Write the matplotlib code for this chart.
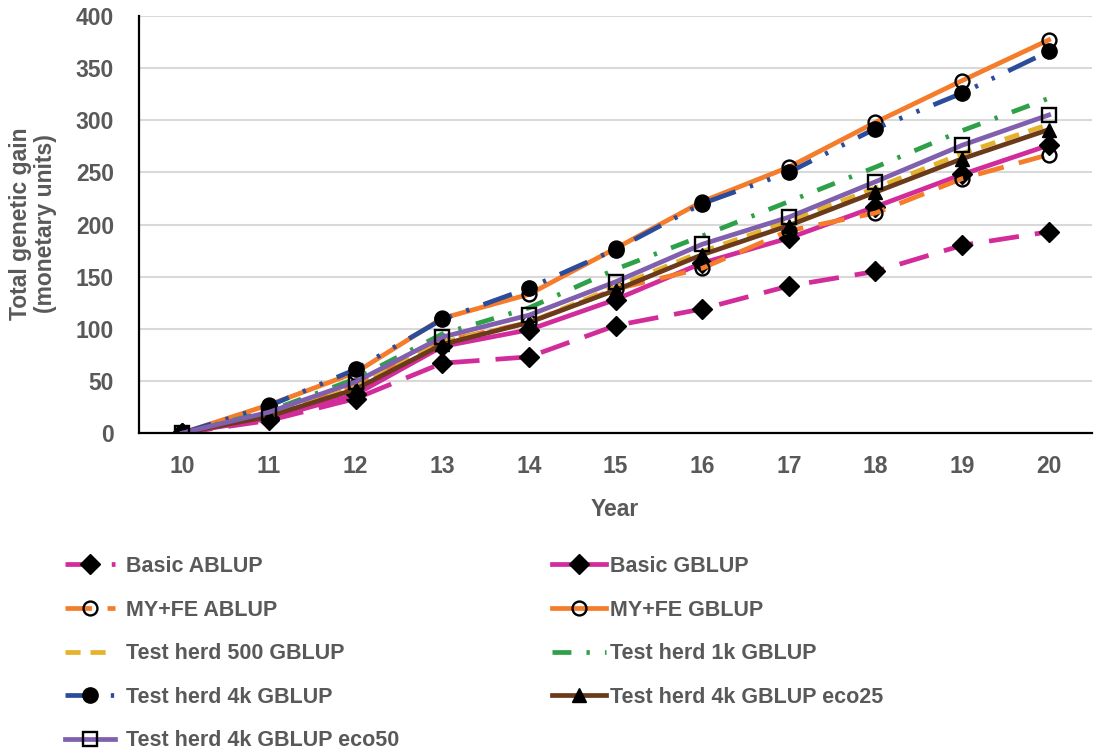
import matplotlib
matplotlib.use('Agg')
import matplotlib.pyplot as plt

years = [10, 11, 12, 13, 14, 15, 16, 17, 18, 19, 20]

basic_ablup = [0, 12, 33, 67, 73, 103, 119, 141, 155, 180, 193]
basic_gblup = [0, 14, 37, 83, 99, 128, 163, 187, 217, 248, 276]
myfe_ablup = [0, 20, 45, 88, 106, 138, 158, 194, 211, 244, 267]
myfe_gblup = [0, 27, 58, 110, 133, 177, 222, 255, 298, 338, 377]
th500_gblup = [0, 17, 44, 87, 106, 140, 174, 203, 235, 268, 296]
th1k_gblup = [0, 21, 52, 95, 120, 157, 189, 222, 255, 290, 321]
th4k_gblup = [0, 26, 61, 109, 139, 176, 220, 250, 292, 326, 366]
th4k_eco25 = [0, 16, 42, 85, 106, 137, 171, 199, 231, 263, 291]
th4k_eco50 = [0, 20, 49, 92, 113, 145, 181, 207, 241, 276, 305]

labels = ['Basic ABLUP', 'Basic GBLUP', 'MY+FE ABLUP', 'MY+FE GBLUP',
          'Test herd 500 GBLUP', 'Test herd 1k GBLUP', 'Test herd 4k GBLUP',
          'Test herd 4k GBLUP eco25', 'Test herd 4k GBLUP eco50']

plt.rcParams['font.family'] = ['Liberation Sans', 'DejaVu Sans']
plt.rcParams['font.weight'] = 'bold'
TXT = '#595959'

fig = plt.figure(figsize=(10.99, 7.53), dpi=100)
ax = fig.add_axes([139/1099, 1-433/753, (1092-139)/1099, (433-16)/753])

lw = 3.4
magenta = '#D12C9A'
orange = '#F47C2A'
gold = '#E5B22B'
green = '#2FA04A'
blue = '#2B4C9B'
brown = '#6B3A1B'
purple = '#7F5FAE'

series = [
    (basic_ablup, dict(color=magenta, ls=(0, (6.4, 3.4)), marker='D', ms=10, mfc='black', mec='black')),
    (basic_gblup, dict(color=magenta, ls='-', marker='D', ms=10, mfc='black', mec='black')),
    (myfe_ablup, dict(color=orange, ls=(0, (5.6, 3.3)), marker='o', ms=10, mfc='none', mec='black', mew=1.7)),
    (myfe_gblup, dict(color=orange, ls='-', marker='o', ms=10, mfc='none', mec='black', mew=1.7)),
    (th500_gblup, dict(color=gold, ls=(0, (3.2, 2.1)))),
    (th1k_gblup, dict(color=green, ls=(0, (4.0, 3.2, 0.7, 3.2)))),
    (th4k_gblup, dict(color=blue, ls=(0, (6.4, 3.2, 0.7, 3.2, 0.7, 3.2)), marker='o', ms=11, mfc='black', mec='black')),
    (th4k_eco25, dict(color=brown, ls='-', marker='^', ms=9.5, mfc='black', mec='black')),
    (th4k_eco50, dict(color=purple, ls='-', marker='s', ms=9.5, mfc='none', mec='black', mew=1.7)),
]

handles = []
for (vals, style), lab in zip(series, labels):
    h, = ax.plot(years, vals, lw=lw, label=lab, **style)
    handles.append(h)

ax.set_xlim(9.5, 20.5)
ax.set_ylim(0, 400)
ax.set_xticks(years)
ax.set_yticks(range(0, 401, 50))
ax.grid(axis='y', color='#D9D9D9', lw=1.5)
ax.set_axisbelow(True)
for s in ['top', 'right']:
    ax.spines[s].set_visible(False)
for s in ['left', 'bottom']:
    ax.spines[s].set_linewidth(1.6)
    ax.spines[s].set_color('black')
ax.tick_params(length=0, labelsize=16.5, labelcolor=TXT)
ax.tick_params(axis='y', pad=18)
ax.tick_params(axis='x', pad=16)

fig.text(33/1099, 1-224/753, 'Total genetic gain\n(monetary units)', rotation=90,
         ha='center', va='center', fontsize=16.5, color=TXT, multialignment='center',
         linespacing=1.1)
fig.text(615/1099, 1-509/753, 'Year', ha='center', va='center', fontsize=16.5, color=TXT)

leg_kw = dict(frameon=False, loc='upper left', fontsize=15.5, numpoints=1,
              labelspacing=1.05, borderpad=0, borderaxespad=0, labelcolor=TXT)
left = [handles[i] for i in (0, 2, 4, 6, 8)]
right = [handles[i] for i in (1, 3, 5, 7)]
l1 = fig.legend(left, [h.get_label() for h in left], bbox_to_anchor=(65/1099, 1-556/753),
                handlelength=2.3, handletextpad=0.55, **leg_kw)
l2 = fig.legend(right, [h.get_label() for h in right], bbox_to_anchor=(552/1099, 1-556/753),
                handlelength=2.5, handletextpad=0.2, **leg_kw)

fig.savefig('out.png', dpi=100)
